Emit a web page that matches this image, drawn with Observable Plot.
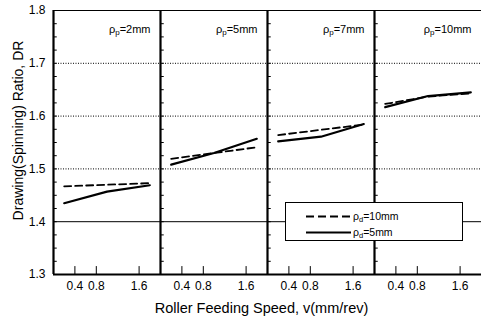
<!DOCTYPE html>
<html><head><meta charset="utf-8">
<script src="https://cdn.jsdelivr.net/npm/d3@7"></script>
<script src="https://cdn.jsdelivr.net/npm/@observablehq/plot@0.6"></script>
<style>
body{margin:0;background:#fff;}
#chart{position:relative;width:481px;height:319px;font-family:"Liberation Sans",Arial,sans-serif;}
.legend{position:absolute;left:285px;top:202px;width:178px;height:39px;box-sizing:border-box;background:#fff;border:1.5px solid #000;}
.legend svg{position:absolute;left:0;top:0;}
</style></head><body><div id="chart"></div>
<script>
// Punch radius facets
const punchRadii = ["2mm", "5mm", "7mm", "10mm"];
// Roller feeding speed (mm/rev) at which values are read
const speeds = [0.2, 1.0, 1.8];
// Drawing ratio, die radius 10mm (dashed), one row per facet
const die10 = [
  [1.467, 1.470, 1.473],
  [1.519, 1.530, 1.541],
  [1.564, 1.574, 1.584],
  [1.623, 1.637, 1.643]
];
// Drawing ratio, die radius 5mm (solid)
const die5 = [
  [1.435, 1.457, 1.469],
  [1.508, 1.530, 1.557],
  [1.552, 1.561, 1.585],
  [1.617, 1.638, 1.645]
];
const xTicks = [0.4, 0.8, 1.6];
const yTicks = [1.3, 1.4, 1.5, 1.6, 1.7, 1.8];
const dottedGrid = [1.5, 1.6, 1.7];
const solidGrid = [1.4];
const minorY = d3.range(1.325, 1.8, 0.025);
const yTitle = "Drawing(Spinning) Ratio, DR";
const xTitle = "Roller Feeding Speed, v(mm/rev)";

const rows = [];
punchRadii.forEach((p, i) => speeds.forEach((v, j) => {
  rows.push({punch: p, v, dr: die10[i][j], die: "10mm"});
  rows.push({punch: p, v, dr: die5[i][j], die: "5mm"});
}));

const chart = Plot.plot({
  width: 481, height: 319,
  marginLeft: 52, marginRight: 0, marginTop: 10, marginBottom: 45,
  style: {fontFamily: "'Liberation Sans', Arial, sans-serif", fontSize: "12px", color: "#000", background: "#fff"},
  fx: {domain: punchRadii, padding: 0, label: null, axis: null},
  x: {domain: [0, 2]},
  y: {domain: [1.3, 1.8]},
  marks: [
    Plot.ruleY(dottedGrid, {stroke: "#000", strokeWidth: 1, strokeDasharray: "1,1.5"}),
    Plot.ruleY(solidGrid, {stroke: "#000", strokeWidth: 1}),
    Plot.ruleY(minorY, {y: d => d, x1: 0, x2: 0.07, stroke: "#000", strokeWidth: 1}),
    Plot.ruleX(xTicks, {x: d => d, y1: 1.3, y2: 1.315, stroke: "#000", strokeWidth: 1}),
    Plot.frame({stroke: "#000", strokeWidth: 1}),
    Plot.ruleX([0], {stroke: "#000", strokeWidth: 2.2}),
    Plot.ruleY([1.3], {stroke: "#000", strokeWidth: 2}),
    Plot.line(rows.filter(d => d.die === "10mm"), {fx: "punch", x: "v", y: "dr", stroke: "#000", strokeWidth: 1.8, strokeDasharray: "7,4"}),
    Plot.line(rows.filter(d => d.die === "5mm"), {fx: "punch", x: "v", y: "dr", stroke: "#000", strokeWidth: 2.2}),
    Plot.text(punchRadii, {fx: d => d, text: d => "ρp=" + d, frameAnchor: "top-right", dx: -10, dy: 15, fontSize: 11}),
    Plot.axisY({ticks: yTicks, tickSize: 0, tickPadding: 8, tickFormat: d => d.toFixed(1), fontSize: 12,
      label: yTitle, labelAnchor: "center", labelOffset: 40, labelArrow: "none"}),
    Plot.axisX({ticks: xTicks, tickSize: 0, tickPadding: 7, tickFormat: d => d.toFixed(1), fontSize: 12, label: null}),
    Plot.axisFx({anchor: "bottom", tickSize: 0, tickFormat: () => "", fontSize: 12,
      label: xTitle, labelAnchor: "center", labelOffset: 38, labelArrow: "none"})
  ]
});

const ns = "http://www.w3.org/2000/svg";
d3.select(chart).selectAll("text").each(function() {
  const t = this.textContent;
  if (t.startsWith("ρp=") && this.children.length === 0) {
    // subscript p in facet labels
    const rest = t.slice(3);
    this.textContent = "";
    const a = document.createElementNS(ns, "tspan"); a.textContent = "ρ";
    const b = document.createElementNS(ns, "tspan"); b.textContent = "p"; b.setAttribute("font-size", "8"); b.setAttribute("dy", "2");
    const c = document.createElementNS(ns, "tspan"); c.textContent = "=" + rest; c.setAttribute("dy", "-2");
    this.append(a, b, c);
  } else if (t === yTitle) {
    this.setAttribute("font-size", "14");
    this.setAttribute("dx", "12");
  } else if (t === xTitle) {
    this.setAttribute("font-size", "14.5");
    this.setAttribute("dx", "-6");
  }
});

const root = document.getElementById("chart");
root.appendChild(chart);

const legendItems = [
  {label: "10mm", dash: "8,4", width: 1.8},
  {label: "5mm", dash: null, width: 2.2}
];
const lg = document.createElement("div");
lg.className = "legend";
const ls = document.createElementNS(ns, "svg");
ls.setAttribute("width", 175); ls.setAttribute("height", 36);
legendItems.forEach((it, i) => {
  const y = 13.5 + i * 16;
  const l = document.createElementNS(ns, "line");
  l.setAttribute("x1", 20); l.setAttribute("x2", 65); l.setAttribute("y1", y); l.setAttribute("y2", y);
  l.setAttribute("stroke", "#000"); l.setAttribute("stroke-width", it.width);
  if (it.dash) l.setAttribute("stroke-dasharray", it.dash);
  ls.appendChild(l);
  const t = document.createElementNS(ns, "text");
  t.setAttribute("x", 67); t.setAttribute("y", y + 3.5);
  t.setAttribute("font-size", "10.5");
  t.setAttribute("font-family", "'Liberation Sans', Arial, sans-serif");
  const a = document.createElementNS(ns, "tspan"); a.textContent = "ρ";
  const b = document.createElementNS(ns, "tspan"); b.textContent = "d"; b.setAttribute("font-size", "7.5"); b.setAttribute("dy", "2");
  const c = document.createElementNS(ns, "tspan"); c.textContent = "=" + it.label; c.setAttribute("dy", "-2");
  t.append(a, b, c);
  ls.appendChild(t);
});
lg.appendChild(ls);
root.appendChild(lg);
</script></body></html>
